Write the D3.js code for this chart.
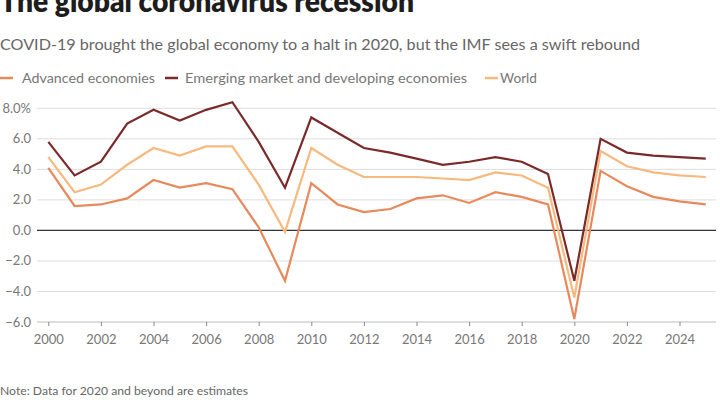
<!DOCTYPE html>
<html><head><meta charset="utf-8">
<script src="https://cdn.jsdelivr.net/npm/d3@7"></script>
<style>body{margin:0;background:#fff}svg{display:block}text{font-family:Lato,"Open Sans",sans-serif}</style>
</head><body><svg id="c" width="720" height="400"></svg>
<script>
const years = d3.range(2000, 2026);
const advanced = [4.1,1.6,1.7,2.1,3.3,2.8,3.1,2.7,0.2,-3.3,3.1,1.7,1.2,1.4,2.1,2.3,1.8,2.5,2.2,1.7,-5.8,3.9,2.9,2.2,1.9,1.7];
const emerging = [5.8,3.6,4.5,7.0,7.9,7.2,7.9,8.4,5.8,2.8,7.4,6.4,5.4,5.1,4.7,4.3,4.5,4.8,4.5,3.7,-3.3,6.0,5.1,4.9,4.8,4.7];
const world    = [4.8,2.5,3.0,4.3,5.4,4.9,5.5,5.5,3.0,-0.1,5.4,4.3,3.5,3.5,3.5,3.4,3.3,3.8,3.6,2.8,-4.4,5.2,4.2,3.8,3.6,3.5];
const seriesNames = ["Advanced economies","Emerging market and developing economies","World"];
const yTicks = [-6,-4,-2,0,2,4,6,8];
const xTicks = d3.range(2000, 2025, 2);
const colors = ["#e8895c","#7b2a2a","#f7b97e"];

const svg = d3.select("#c");
const x = d3.scaleLinear().domain([2000,2025]).range([48.3,705.8]);
const y = d3.scaleLinear().domain([-6,8]).range([322,108.3]);

function fit(sel, w){ sel.each(function(){ d3.select(this).attr("textLength",w).attr("lengthAdjust","spacingAndGlyphs"); }); }

svg.append("text").attr("x",0).attr("y",12).attr("font-size",30).attr("font-weight",800).attr("fill","#1d1d1d")
  .text("The global coronavirus recession").call(fit,414);
svg.append("text").attr("x",0).attr("y",50).attr("font-size",15.5).attr("fill","#666")
  .text("COVID-19 brought the global economy to a halt in 2020, but the IMF sees a swift rebound").call(fit,640);

// legend
const legX = [[0,22,133],[165,185,282],[485,500,37]];
seriesNames.forEach((n,i)=>{
  svg.append("line").attr("x1",legX[i][0]).attr("x2",legX[i][0]+13).attr("y1",78).attr("y2",78)
    .attr("stroke",colors[i]).attr("stroke-width",2.5);
  svg.append("text").attr("x",legX[i][1]).attr("y",83).attr("font-size",14).attr("fill","#777").text(n).call(fit,legX[i][2]);
});

// grid
svg.append("g").selectAll("line").data(yTicks.filter(d=>d!==0)).join("line")
  .attr("x1",37).attr("x2",716).attr("y1",d=>y(d)).attr("y2",d=>y(d))
  .attr("stroke",d=>d===-6?"#bbb":"#ddd").attr("stroke-width",1);
svg.append("g").selectAll("text").data(yTicks).join("text")
  .attr("x",31).attr("y",d=>y(d)+4.5).attr("text-anchor","end").attr("font-size",13).attr("fill","#777")
  .text(d=>(d<0?"\u2212":"")+Math.abs(d).toFixed(1)+(d===8?"%":""));

// x axis
const xa = svg.append("g").attr("transform",`translate(0,${y(-6)})`)
  .call(d3.axisBottom(x).tickValues(xTicks).tickFormat(d3.format("d")).tickSize(4).tickPadding(9));
xa.select(".domain").remove();
xa.selectAll("line").attr("stroke","#888");
xa.selectAll("text").attr("font-size",13).attr("fill","#777").attr("font-family","Lato,sans-serif");

// zero line
svg.append("line").attr("x1",37).attr("x2",716).attr("y1",y(0)).attr("y2",y(0)).attr("stroke","#333").attr("stroke-width",1.2);

const line = d3.line().x((d,i)=>x(years[i])).y(d=>y(d));
[world, advanced, emerging].forEach((s)=>{
  const i = s===advanced?0:s===emerging?1:2;
  svg.append("path").datum(s).attr("d",line).attr("fill","none").attr("stroke",colors[i])
    .attr("stroke-width",2.2).attr("stroke-linejoin","miter");
});

svg.append("text").attr("x",0).attr("y",395).attr("font-size",12).attr("fill","#666")
  .text("Note: Data for 2020 and beyond are estimates").call(fit,248);
</script></body></html>
